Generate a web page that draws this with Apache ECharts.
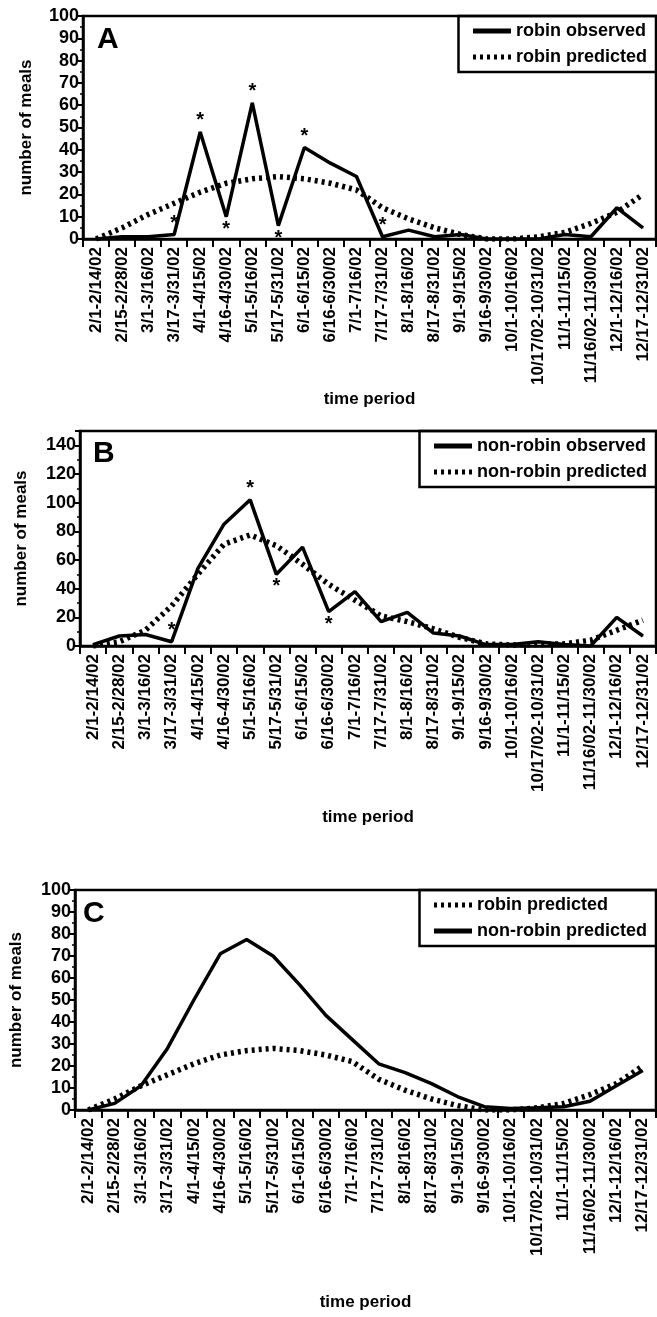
<!DOCTYPE html>
<html>
<head>
<meta charset="utf-8">
<script src="https://cdn.jsdelivr.net/npm/echarts@6/dist/echarts.min.js"></script>
<style>
html, body { margin: 0; padding: 0; background: #fff; }
#chart { width: 657px; height: 1317px; }
</style>
</head>
<body>
<div id="chart"></div>
<script>
// time periods (2002)
var periods = ['2/1-2/14/02', '2/15-2/28/02', '3/1-3/16/02', '3/17-3/31/02', '4/1-4/15/02',
    '4/16-4/30/02', '5/1-5/16/02', '5/17-5/31/02', '6/1-6/15/02', '6/16-6/30/02', '7/1-7/16/02',
    '7/17-7/31/02', '8/1-8/16/02', '8/17-8/31/02', '9/1-9/15/02', '9/16-9/30/02', '10/1-10/16/02',
    '10/17/02-10/31/02', '11/1-11/15/02', '11/16/02-11/30/02', '12/1-12/16/02', '12/17-12/31/02'];

var robinObserved = [0, 1, 1, 2, 48, 10, 61, 6, 41, 34, 28, 1, 4, 1, 2, 0, 0, 0, 2, 1, 14, 5];
var robinPredicted = [0, 5, 11, 16, 21, 25, 27, 28, 27, 25, 22, 14, 9, 5, 2, 0, 0, 1, 3, 7, 12, 20];
var nonRobinObserved = [1, 7, 8, 3, 54, 85, 102, 50, 69, 24, 38, 17, 23.5, 9, 7, 1, 1, 3, 1, 0, 20, 7];
var nonRobinPredicted = [0, 3, 11, 28, 50, 71, 77.5, 70, 57, 43, 32, 21, 17, 12, 6, 1.5, 0.7, 1, 1.5, 4, 11, 18];

// indices of significant periods (asterisks)
var robinStarsTop = [3, 4, 6, 8, 11];
var robinStarsBottom = [5, 7];
var nonRobinStarsTop = [3, 6];
var nonRobinStarsBottom = [7, 9];

var cFont = 'Liberation Sans, Arial, Helvetica, sans-serif';

function starData(aVal, aTop, aBottom) {
    return aVal.map(function (v, i) {
        var cPos = aTop.indexOf(i) >= 0 ? 'top' : (aBottom.indexOf(i) >= 0 ? 'bottom' : null);
        if (!cPos) return v;
        return {
            value: v,
            label: {
                show: true, position: cPos, formatter: '*', distance: cPos === 'top' ? 1 : 2,
                color: '#000', fontSize: 20, fontWeight: 'bold', fontFamily: cFont
            }
        };
    });
}

function xAxisCfg(nIdx, nGap) {
    return {
        type: 'category', gridIndex: nIdx, data: periods, boundaryGap: true,
        name: 'time period', nameLocation: 'middle', nameGap: nGap,
        nameTextStyle: { color: '#000', fontSize: 17, fontWeight: 'bold', fontFamily: cFont },
        axisLine: { lineStyle: { color: '#000', width: 2.5 } },
        axisTick: { show: true, length: 8, lineStyle: { color: '#000', width: 2 } },
        axisLabel: {
            interval: 0, rotate: 90, color: '#000', fontSize: 17, fontWeight: 'bold',
            fontFamily: cFont, margin: 8
        },
        splitLine: { show: false }
    };
}

function yAxisCfg(nIdx, nMax, nInterval, nGap) {
    return {
        type: 'value', gridIndex: nIdx, min: 0, max: nMax, interval: nInterval,
        name: 'number of meals', nameLocation: 'middle', nameGap: nGap,
        nameTextStyle: { color: '#000', fontSize: 17, fontWeight: 'bold', fontFamily: cFont },
        axisLine: { show: true, lineStyle: { color: '#000', width: 2.5 } },
        axisTick: { show: true, length: 5, lineStyle: { color: '#000', width: 2 } },
        minorTick: { show: true, splitNumber: 2, length: 3, lineStyle: { color: '#000', width: 1.5 } },
        axisLabel: {
            color: '#000', fontSize: 18, fontWeight: 'bold', fontFamily: cFont, margin: 4,
            showMaxLabel: nMax % nInterval === 0
        },
        splitLine: { show: false }
    };
}

function legendCfg(nTop, aNames) {
    return {
        data: aNames, orient: 'vertical', right: 0, top: nTop,
        borderColor: '#000', borderWidth: 2.5, padding: [6, 10, 6, 12], itemGap: 8,
        itemWidth: 38, itemHeight: 14, selectedMode: false,
        itemStyle: { color: 'transparent', borderWidth: 0, opacity: 0 },
        lineStyle: { width: 5, color: '#000' },
        formatter: function (cName) { return cName.trim(); },
        textStyle: { color: '#000', fontSize: 18, fontWeight: 'bold', fontFamily: cFont }
    };
}

var oSolid = { color: '#000', width: 3.5, type: 'solid' };
var oDotted = { color: '#000', width: 5.5, type: [3, 4] };

function lineSeries(cName, nIdx, aData, oStyle, nZ, bMarks) {
    return {
        name: cName, type: 'line', xAxisIndex: nIdx, yAxisIndex: nIdx, data: aData,
        symbol: bMarks ? 'circle' : 'none', symbolSize: 1, showSymbol: !!bMarks,
        lineStyle: oStyle, itemStyle: { color: '#000' }, z: nZ || 2,
        animation: false
    };
}

var oChart = echarts.init(document.getElementById('chart'), null, { renderer: 'canvas' });

var oOption = {
    backgroundColor: '#fff',
    animation: false,
    title: [
        { text: 'A', left: 92, top: 20, textStyle: { fontSize: 30, fontWeight: 'bold', fontFamily: cFont, color: '#000' } },
        { text: 'B', left: 88, top: 434, textStyle: { fontSize: 30, fontWeight: 'bold', fontFamily: cFont, color: '#000' } },
        { text: 'C', left: 78, top: 894, textStyle: { fontSize: 30, fontWeight: 'bold', fontFamily: cFont, color: '#000' } }
    ],
    grid: [
        { left: 83, right: 1, top: 16, height: 223, show: true, borderColor: '#000', borderWidth: 2.5 },
        { left: 80, right: 1, top: 431, height: 215, show: true, borderColor: '#000', borderWidth: 2.5 },
        { left: 70, right: 1, top: 890, height: 220, show: true, borderColor: '#000', borderWidth: 2.5 }
    ],
    legend: [
        legendCfg(16, ['robin observed', 'robin predicted']),
        legendCfg(431, ['non-robin observed', 'non-robin predicted']),
        legendCfg(890, ['robin predicted', 'non-robin predicted '])
    ],
    xAxis: [xAxisCfg(0, 152), xAxisCfg(1, 163), xAxisCfg(2, 184)],
    yAxis: [yAxisCfg(0, 100, 10, 48), yAxisCfg(1, 150, 20, 50), yAxisCfg(2, 100, 10, 50)],
    series: [
        lineSeries('robin observed', 0, starData(robinObserved, robinStarsTop, robinStarsBottom), oSolid, 3, true),
        lineSeries('robin predicted', 0, robinPredicted, oDotted),
        lineSeries('non-robin observed', 1, starData(nonRobinObserved, nonRobinStarsTop, nonRobinStarsBottom), oSolid, 3, true),
        lineSeries('non-robin predicted', 1, nonRobinPredicted, oDotted),
        lineSeries('robin predicted', 2, robinPredicted, oDotted),
        lineSeries('non-robin predicted ', 2, nonRobinPredicted, oSolid, 3)
    ]
};

oChart.setOption(oOption);
</script>
</body>
</html>
